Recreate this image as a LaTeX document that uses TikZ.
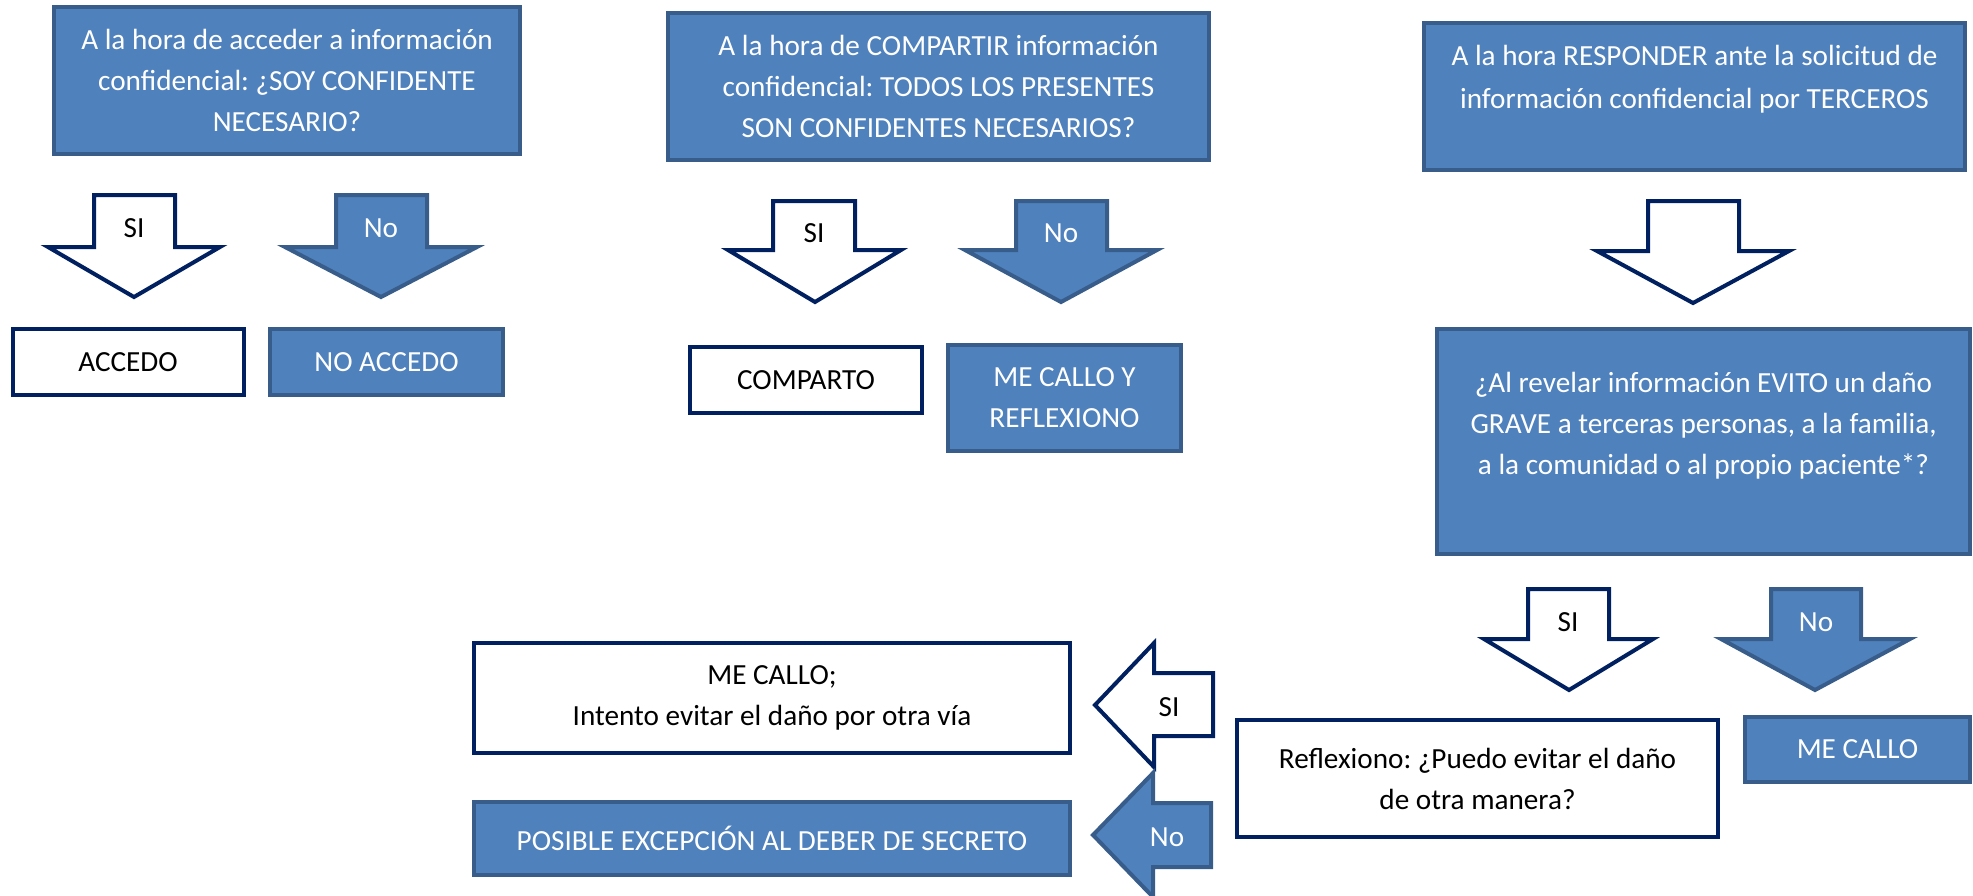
\documentclass[tikz,border=0pt]{standalone}
\usepackage{fontspec}
\setmainfont{Carlito}
\definecolor{bfill}{RGB}{79,129,189}
\definecolor{bline}{RGB}{56,93,138}
\definecolor{navy}{RGB}{0,32,96}
\frenchspacing
\begin{document}
\begin{tikzpicture}[x=0.5pt,y=-0.5pt,
  txt/.style={font=\fontsize{14.6}{20.5}\selectfont, align=center},
  bluebox/.style={txt, draw=bline, fill=bfill, line width=2pt, text=white, inner sep=0pt},
  whitebox/.style={txt, draw=navy, fill=white, line width=2pt, text=black, inner sep=0pt},
  bluearrow/.style={draw=bline, fill=bfill, line width=2pt, line join=miter},
  whitearrow/.style={draw=navy, fill=white, line width=2pt, line join=miter},
  lblw/.style={txt, text=white, inner sep=0pt},
  lblb/.style={txt, text=black, inner sep=0pt}]
\useasboundingbox (0,0) rectangle (1973,895);

% top boxes
\node[bluebox, minimum width=233pt, minimum height=73.5pt] (q1) at (287,80.5)
  {A la hora de acceder a información\\confidencial: ¿SOY CONFIDENTE\\NECESARIO?};
\node[bluebox, minimum width=270.5pt, minimum height=73.5pt] (q2) at (938.5,86.5)
  {A la hora de COMPARTIR información\\confidencial: TODOS LOS PRESENTES\\SON CONFIDENTES NECESARIOS?};
\node[bluebox, minimum width=270.5pt, minimum height=73.5pt] (q3) at (1694.5,96.5) {};
\node[lblw, font=\fontsize{14.6}{21.5}\selectfont] (q3t) at (1694.5,79)
  {A la hora RESPONDER ante la solicitud de\\información confidencial por TERCEROS};

% arrows column 1
\draw[whitearrow] (94,195) -- (175,195) -- (175,247) -- (220,247) -- (134,297) -- (48,247) -- (94,247) -- cycle;
\node[lblb] (si1) at (134,228) {SI};
\draw[bluearrow] (336,195) -- (427,195) -- (427,247) -- (477,247) -- (381,297) -- (285,247) -- (336,247) -- cycle;
\node[lblw] (no1) at (381,228) {No};

% arrows column 2
\draw[whitearrow] (773,201) -- (855,201) -- (855,250) -- (901,250) -- (815,302) -- (728,250) -- (773,250) -- cycle;
\node[lblb] (si2) at (814,233) {SI};
\draw[bluearrow] (1016,201) -- (1107,201) -- (1107,250) -- (1157,250) -- (1061,302) -- (965,250) -- (1016,250) -- cycle;
\node[lblw] (no2) at (1061,233) {No};

% arrow column 3
\draw[whitearrow] (1648,201) -- (1739,201) -- (1739,251) -- (1789,251) -- (1693,303) -- (1597,251) -- (1648,251) -- cycle;

% result boxes
\node[whitebox, minimum width=115.5pt, minimum height=33pt] (acc) at (128,362) {ACCEDO};
\node[bluebox, minimum width=116.5pt, minimum height=33pt] (noacc) at (386.5,362) {NO ACCEDO};
\node[whitebox, minimum width=116pt, minimum height=33pt] (comp) at (806,380) {COMPARTO};
\node[bluebox, minimum width=116.5pt, minimum height=53pt] (callo1) at (1064.5,398) {ME CALLO Y\\REFLEXIONO};

\node[bluebox, minimum width=266.5pt, minimum height=112.5pt] (q4) at (1703.5,441.5) {};
\node[lblw] (q4t) at (1703.5,426)
  {¿Al revelar información EVITO un daño\\GRAVE a terceras personas, a la familia,\\a la comunidad o al propio paciente*?};

% arrows under q4
\draw[whitearrow] (1528,589) -- (1609,589) -- (1609,639) -- (1653,639) -- (1569,690) -- (1484,639) -- (1528,639) -- cycle;
\node[lblb] (si4) at (1568,622) {SI};
\draw[bluearrow] (1771,589) -- (1861,589) -- (1861,639) -- (1910,639) -- (1815,690) -- (1721,639) -- (1771,639) -- cycle;
\node[lblw] (no4) at (1816,622) {No};

\node[whitebox, minimum width=240.5pt, minimum height=58.5pt] (refl) at (1477.5,778.5)
  {Reflexiono: ¿Puedo evitar el daño\\de otra manera?};
\node[bluebox, minimum width=112.5pt, minimum height=32.5pt] (callo2) at (1857.5,749.5) {ME CALLO};

% left arrows
\draw[whitearrow] (1095,705) -- (1154,643) -- (1154,673) -- (1213,673) -- (1213,736) -- (1154,736) -- (1154,767) -- cycle;
\node[lblb] (si5) at (1169,707) {SI};
\draw[bluearrow] (1093,835) -- (1153,773) -- (1153,803) -- (1211,803) -- (1211,867) -- (1153,867) -- (1153,897) -- cycle;
\node[lblw] (no5) at (1167,837) {No};

\node[whitebox, minimum width=298pt, minimum height=55pt] (callo3) at (772,698)
  {ME CALLO;\\Intento evitar el daño por otra vía};
\node[bluebox, minimum width=298pt, minimum height=36.5pt] (exc) at (772,838.5)
  {POSIBLE EXCEPCIÓN AL DEBER DE SECRETO};
\end{tikzpicture}
\end{document}
